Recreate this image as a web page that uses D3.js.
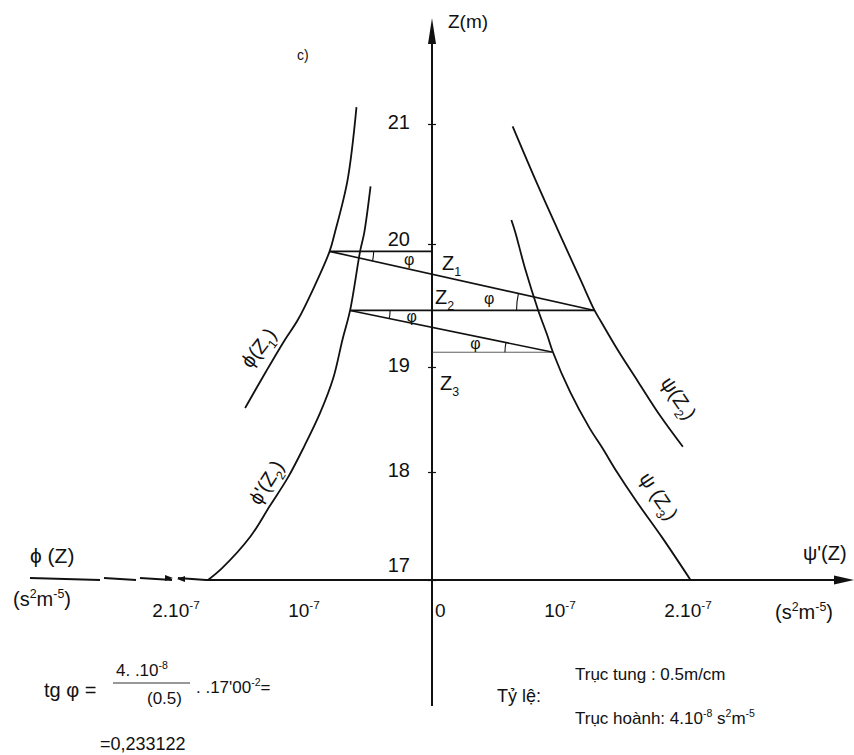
<!DOCTYPE html>
<html>
<head>
<meta charset="utf-8">
<script src="https://cdn.jsdelivr.net/npm/d3@7"></script>
<style>
body { margin: 0; background: #fff; }
svg text { font-family: "Liberation Sans", Arial, sans-serif; fill: #111; }
</style>
</head>
<body>
<svg id="sv" width="854" height="755"></svg>
<script>
// values: x in units of 1e-7 s2m-5 (phi side negative), z in metres
var zTicks = [17, 18, 19, 20, 21];
var xTicks = [-2, -1, 0, 1, 2];
var xTickLabels = [["2.10", "-7"], ["10", "-7"], ["0", ""], ["10", "-7"], ["2.10", "-7"]];

var phiZ1 = [[-0.59, 21.14], [-0.66, 20.53], [-0.76, 20.09], [-0.80, 19.94], [-0.93, 19.63],
             [-1.05, 19.38], [-1.15, 19.22], [-1.30, 18.95], [-1.46, 18.61]];
var phiZ2 = [[-0.48, 20.48], [-0.53, 20.09], [-0.56, 19.95], [-0.64, 19.46], [-0.70, 19.22],
             [-0.77, 18.90], [-0.875, 18.56], [-1.0, 18.24], [-1.125, 17.95], [-1.27, 17.68],
             [-1.42, 17.40], [-1.64, 17.11], [-1.75, 17.0]];
var psiZ2 = [[0.63, 20.98], [0.81, 20.53], [1.02, 20.03], [1.16, 19.71], [1.27, 19.46],
             [1.32, 19.37], [1.45, 19.14], [1.61, 18.86], [1.78, 18.54], [1.96, 18.24]];
var psiZ3 = [[0.62, 20.2], [0.65, 20.1], [0.73, 19.79], [0.83, 19.46], [0.90, 19.26],
             [0.945, 19.12], [1.08, 18.76], [1.23, 18.42], [1.33, 18.23], [1.45, 17.99],
             [1.59, 17.74], [1.80, 17.39], [2.02, 17.0]];

// construction: levels Z1, Z2, Z3 and the two slanted lines
var z1Line = [[-0.80, 19.94], [0, 19.94]];
var z2Line = [[-0.64, 19.46], [1.27, 19.46]];
var z3Line = [[0, 19.12], [0.945, 19.12]];
var slant1 = [[-0.80, 19.94], [1.27, 19.46]];
var slant2 = [[-0.64, 19.46], [0.945, 19.12]];

var svg = d3.select("#sv");
var x = d3.scaleLinear().domain([-2, 2]).range([176, 688]);
var y = d3.scaleLinear().domain(zTicks).range([580, 472, 367, 244, 124]);
var x0 = x(0), y0 = y(17);

var line = d3.line()
    .x(function(d) { return x(d[0]); })
    .y(function(d) { return y(d[1]); })
    .curve(d3.curveCatmullRom.alpha(0.5));
var straight = d3.line()
    .x(function(d) { return x(d[0]); })
    .y(function(d) { return y(d[1]); });

// text with super / subscripts
function rich(g, xx, yy, parts, size, anchor) {
  var t = g.append("text").attr("x", xx).attr("y", yy)
      .attr("font-size", size).attr("text-anchor", anchor || "start");
  var up = 0;
  parts.forEach(function(p) {
    var shift = p[1] === "sup" ? -0.42 * size : p[1] === "sub" ? 0.3 * size : 0;
    var s = t.append("tspan").text(p[0]).attr("dy", shift - up);
    if (p[1]) s.attr("font-size", size * 0.62);
    up = shift;
  });
  return t;
}

// horizontal axis (left part broken like the scan)
var hx = [[30, 100], [104, 136], [140, 172], [178, 206], [206, 846]];
svg.selectAll(".hx").data(hx).enter().append("line")
    .attr("x1", function(d) { return d[0]; }).attr("x2", function(d) { return d[1]; })
    .attr("y1", function(d) { return d[0] < 200 ? y0 - 2 : y0; }).attr("y2", y0)
    .attr("stroke", "#111").attr("stroke-width", 2);
svg.append("path").attr("d", "M854," + y0 + " L834," + (y0 - 4.5) + " L834," + (y0 + 4.5) + "Z").attr("fill", "#111");
svg.append("path").attr("d", "M173," + (y0 - 2) + " l-8,-3 l0,6Z").attr("fill", "#111");
svg.append("path").attr("d", "M177," + (y0 - 1) + " l8,-3 l0,6Z").attr("fill", "#111");

// vertical axis
svg.append("line").attr("x1", x0).attr("x2", x0).attr("y1", 38).attr("y2", 706)
    .attr("stroke", "#111").attr("stroke-width", 2);
svg.append("path").attr("d", "M" + x0 + ",18 L" + (x0 - 4) + ",44 L" + (x0 + 4) + ",44Z").attr("fill", "#111");

var yAxis = d3.axisLeft(y).tickValues(zTicks).tickSize(4).tickPadding(18).tickFormat(d3.format("d"));
var gY = svg.append("g").attr("transform", "translate(" + x0 + ",0)").call(yAxis);
gY.select(".domain").remove();
gY.selectAll(".tick line").attr("x1", -4).attr("x2", 4).attr("stroke", "#111").attr("stroke-width", 1.2);
gY.selectAll(".tick text").attr("font-size", 20).attr("font-family", "Liberation Sans, Arial, sans-serif")
    .attr("fill", "#111")
    .attr("dy", function(d) { return d === 17 ? "-0.45em" : d === 20 ? "0.05em" : "0.2em"; });

// x tick labels
xTicks.forEach(function(v, i) {
  var lab = xTickLabels[i];
  if (v === 0) {
    rich(svg, x0 + 3, 617, [[lab[0]]], 19, "start");
  } else {
    rich(svg, x(v), 617, [[lab[0]], [lab[1], "sup"]], 19, "middle");
  }
});

// curves
[phiZ1, phiZ2, psiZ2, psiZ3].forEach(function(c) {
  svg.append("path").attr("d", line(c)).attr("fill", "none")
      .attr("stroke", "#111").attr("stroke-width", 1.8);
});

// construction lines
[z1Line, z2Line, slant1, slant2].forEach(function(c) {
  svg.append("path").attr("d", straight(c)).attr("fill", "none")
      .attr("stroke", "#111").attr("stroke-width", 1.6);
});
svg.append("path").attr("d", straight(z3Line)).attr("fill", "none")
    .attr("stroke", "#333").attr("stroke-width", 0.8);

// angle marks phi
var angles = [
  { v: slant1[0], o: slant1[1], h: 1, r: 44, d: 80 },
  { v: slant1[1], o: slant1[0], h: -1, r: 78, d: 106 },
  { v: slant2[0], o: slant2[1], h: 1, r: 40, d: 62 },
  { v: slant2[1], o: slant2[0], h: -1, r: 48, d: 78 }
];
angles.forEach(function(a) {
  var vx = x(a.v[0]), vy = y(a.v[1]);
  var dx = x(a.o[0]) - vx, dy = y(a.o[1]) - vy, L = Math.hypot(dx, dy);
  var ux = dx / L, uy = dy / L;
  var p1 = [vx + a.h * a.r, vy], p2 = [vx + ux * a.r, vy + uy * a.r];
  var sweep = (a.h * uy) > 0 ? 1 : 0;
  svg.append("path")
      .attr("d", "M" + p1 + " A" + a.r + "," + a.r + " 0 0," + sweep + " " + p2)
      .attr("fill", "none").attr("stroke", "#111").attr("stroke-width", 1.1);
  var bx = a.h + ux, by = uy, bl = Math.hypot(bx, by);
  svg.append("text").attr("x", vx + bx / bl * a.d).attr("y", vy + by / bl * a.d + 5)
      .attr("font-size", 16).attr("text-anchor", "middle").text("φ");
});

// Z labels
rich(svg, x0 + 10, 270, [["Z"], ["1", "sub"]], 20);
rich(svg, x0 + 3, 304, [["Z"], ["2", "sub"]], 20);
rich(svg, x0 + 8, 390, [["Z"], ["3", "sub"]], 20);

// axis titles
rich(svg, 448, 28, [["Z(m)"]], 19);
rich(svg, 297, 60, [["c)"]], 14);
rich(svg, 30, 563, [["ϕ (Z)"]], 21);
rich(svg, 13, 606, [["(s"], ["2", "sup"], ["m"], ["-5", "sup"], [")"]], 20);
rich(svg, 803, 560, [["ψ'(Z)"]], 20);
rich(svg, 775, 619, [["(s"], ["2", "sup"], ["m"], ["-5", "sup"], [")"]], 20);

// rotated curve labels
function curveLabel(px, py, rot, parts) {
  var g = svg.append("g").attr("transform", "translate(" + px + "," + py + ") rotate(" + rot + ")");
  rich(g, 0, 0, parts, 20, "middle");
}
curveLabel(264, 352, -52, [["ϕ(Z"], ["1", "sub"], [")"]]);
curveLabel(272, 486, -58, [["ϕ'(Z"], ["2", "sub"], [")"]]);
curveLabel(673, 402, 56, [["ψ(Z"], ["2", "sub"], [")"]]);
curveLabel(653, 500, 56, [["ψ (Z"], ["3", "sub"], [")"]]);

// formula
rich(svg, 44, 697, [["tg φ ="]], 20);
rich(svg, 116, 676, [["4. .10"], ["-8", "sup"]], 17);
svg.append("line").attr("x1", 113).attr("x2", 190).attr("y1", 683).attr("y2", 683)
    .attr("stroke", "#333").attr("stroke-width", 1);
rich(svg, 147, 704, [["(0.5)"]], 17);
rich(svg, 196, 693, [[". .17'00"], ["-2", "sup"], ["="]], 17);
rich(svg, 100, 750, [["=0,233122"]], 18);

// scale note
rich(svg, 497, 702, [["Tỷ lệ:"]], 18);
rich(svg, 575, 680, [["Trục tung : 0.5m/cm"]], 17);
rich(svg, 575, 724, [["Trục hoành:  4.10"], ["-8", "sup"], [" s"], ["2", "sup"], ["m"], ["-5", "sup"]], 17);
</script>
</body>
</html>
